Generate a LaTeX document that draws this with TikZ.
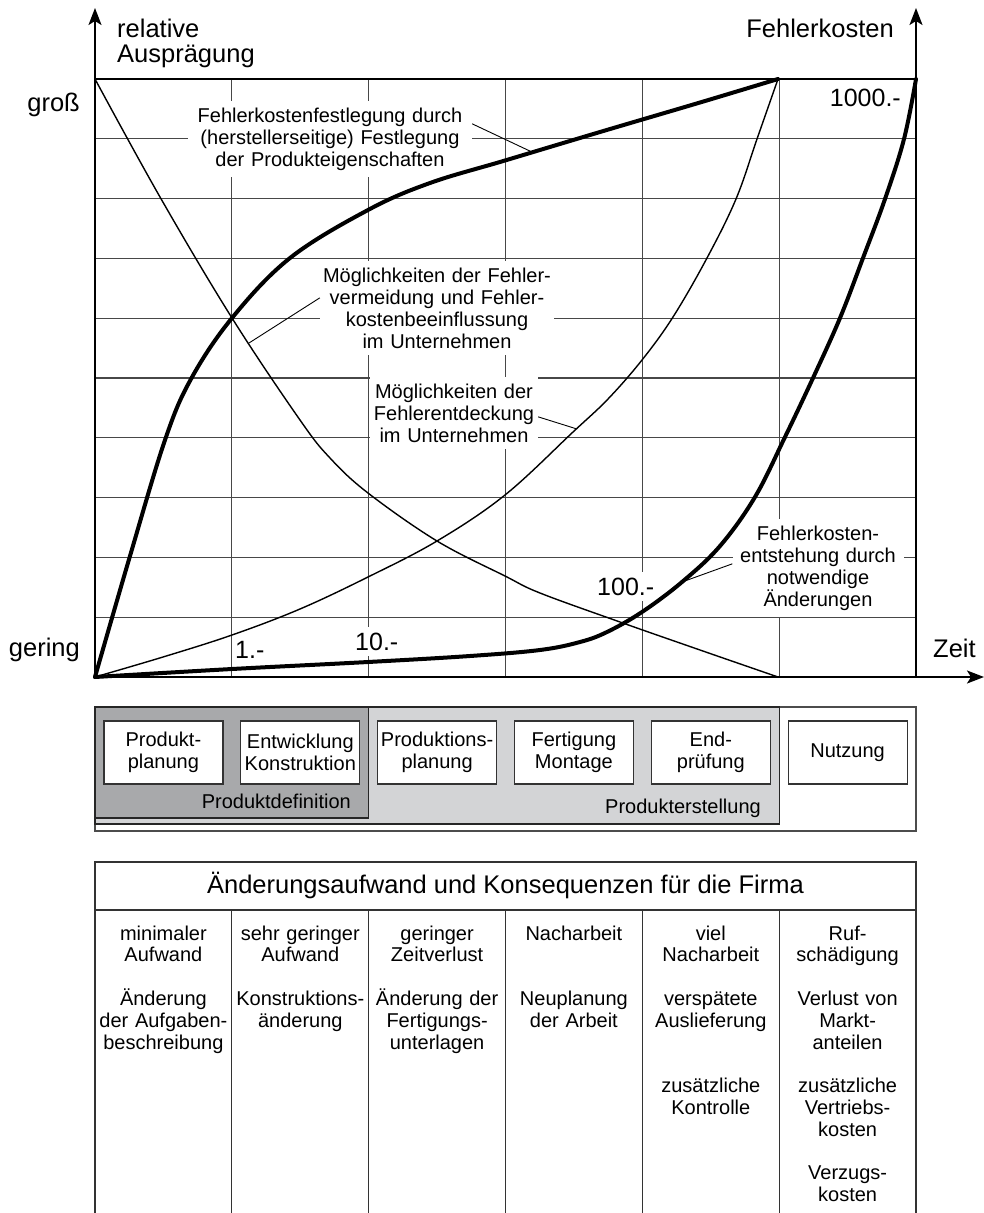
\documentclass[tikz,border=0pt]{standalone}
\usepackage{fontspec}
\setmainfont{Liberation Sans}
\usetikzlibrary{arrows.meta}
\definecolor{defgray}{RGB}{168,169,171}
\definecolor{makegray}{RGB}{211,212,214}
\begin{document}
\begin{tikzpicture}[x=1pt,y=-1pt,
  gridline/.style={draw=black!72, line width=1.1pt},
  axis/.style={line width=1.8pt, -{Stealth[length=17pt,width=13pt,inset=4pt]}},
  thickcurve/.style={line width=4pt, line join=round, line cap=round},
  thincurve/.style={line width=1.4pt},
  leader/.style={line width=0.9pt},
  axislabel/.style={font=\fontsize{25.5}{25}\selectfont, inner sep=0pt},
  note/.style={font=\fontsize{20}{22}\selectfont, align=center, fill=white, inner ysep=7pt},
  price/.style={font=\fontsize{25}{25}\selectfont, fill=white, inner xsep=2pt, inner ysep=6pt},
  phase/.style={draw=black!80, fill=white, line width=1.2pt, minimum width=119pt,
    minimum height=63pt, text width=119pt, inner sep=0pt, align=center,
    font=\fontsize{20}{21.5}\selectfont},
  groupname/.style={font=\fontsize{20}{20}\selectfont, inner sep=0pt},
  cell/.style={font=\fontsize{20}{21.8}\selectfont, text width=134pt, align=center, inner sep=0pt},
  frame/.style={draw=black!80, line width=1.2pt},
]
\useasboundingbox (0,0) rectangle (984,1213);

% ---------- chart grid ----------
\foreach \k in {1,...,9}
  \draw[gridline] (95,{79+\k*59.8}) -- (916,{79+\k*59.8});
\foreach \k in {1,...,5}
  \draw[gridline] ({95+\k*136.83},79) -- ({95+\k*136.83},677);
\draw[line width=1.6pt] (95,79) -- (916,79);

% ---------- axes ----------
\draw[axis] (95,677) -- (95,8);
\draw[axis] (916,677) -- (916,8);
\draw[axis] (95,677) -- (984,677);

\node[axislabel, anchor=base west, text width=200pt, align=left] (ylab) at (117,37) {relative\\Ausprägung};
\node[axislabel, anchor=base east] (costlab) at (894,37) {Fehlerkosten};
\node[axislabel, anchor=base east] (big) at (80,111) {groß};
\node[axislabel, anchor=base east] (small) at (80,656) {gering};
\node[axislabel, anchor=base west] (time) at (933,657) {Zeit};

% ---------- curve labels (white backing cuts the grid) ----------
\node[note, text width=272pt, inner xsep=6pt, anchor=base] (nA) at (330,122)
  {Fehlerkostenfestlegung durch\\(herstellerseitige) Festlegung\\der Produkteigenschaften};
\node[note, text width=230pt, inner xsep=2pt, anchor=base] (nB) at (437,282)
  {Möglichkeiten der Fehler-\\vermeidung und Fehler-\\kostenbeeinflussung\\im Unternehmen};
\node[note, text width=163pt, inner xsep=2.5pt, anchor=base] (nC) at (454,398)
  {Möglichkeiten der\\Fehlerentdeckung\\im Unternehmen};
\node[note, text width=159pt, inner xsep=6pt, anchor=base] (nD) at (818,540)
  {Fehlerkosten-\\entstehung durch\\notwendige\\Änderungen};

\node[price, fill=none, anchor=base west] (p1) at (233,658) {1.-};
\node[price, anchor=base west] (p10) at (353,650) {10.-};
\node[price, anchor=base west] (p100) at (595,595) {100.-};
\node[price, inner ysep=3pt, anchor=base east] (p1000) at (903,106) {1000.-};

% ---------- curves ----------
% cost commitment by product definition
\draw[thickcurve] plot[smooth, tension=0.6] coordinates {(95,677) (130,556) (165,440) (191,379)
  (232,318) (290,258) (368,210) (430,183) (505,160.5) (600,132) (700,102.5) (778,79)};
% possibilities of error prevention
\draw[thincurve] plot[smooth, tension=0.6] coordinates {(95,79) (160,197) (232,318) (300,420)
  (330,458) (368,493) (437,541) (505,576) (540,593) (620,622) (700,650) (778,677)};
% possibilities of error detection
\draw[thincurve] plot[smooth, tension=0.6] coordinates {(95,677) (163,657) (232,635) (300,609)
  (368,577) (437,541) (505,495) (573,432) (608,399) (642,360) (673,317) (707,258) (736,199)
  (757,139) (778,79)};
% costs arising from necessary changes
\draw[thickcurve] plot[smooth, tension=0.6] coordinates {(95,677) (232,669) (368,662) (470,656)
  (540,650) (580,642) (607,632) (642,612) (682,582) (720,546) (755,497) (785,437) (813,378)
  (840,318) (863,258) (885,199) (904,139) (916,79)};

% ---------- leader lines ----------
\coordinate (onA) at (533,152.5);
\coordinate (onB) at (249,343);
\coordinate (onC) at (577,429);
\coordinate (onD) at (682,582);
\draw[leader] ([yshift=15pt]nA.east) -- (onA);
\draw[leader] ([yshift=10pt]nB.west) -- (onB);
\draw[leader] ([yshift=-4pt]nC.east) -- (onC);
\draw[leader] ([yshift=4pt]nD.west) -- (onD);

% ---------- phase bar ----------
\draw[draw=black!70, fill=white, line width=1.1pt] (95,707) rectangle (916,831);
\draw[draw=black!85, fill=makegray, line width=1.2pt] (95,707) rectangle (779.2,824);
\draw[draw=black!85, fill=defgray, line width=1.2pt] (95,707) rectangle (368.7,818);
\node[phase] (pb1) at (163.4,752.5) {Produkt-\\planung};
\node[phase] (pb2) at (300.3,752.5) {Entwicklung\\Konstruktion};
\node[phase] (pb3) at (437.1,752.5) {Produktions-\\planung};
\node[phase] (pb4) at (573.9,752.5) {Fertigung\\Montage};
\node[phase] (pb5) at (710.8,752.5) {End-\\prüfung};
\node[phase] (pb6) at (847.6,752.5) {Nutzung};
\node[groupname, anchor=base east] (gdef) at (351,808) {Produktdefinition};
\node[groupname, anchor=base east] (gmake) at (761,813) {Produkterstellung};

% ---------- consequences table ----------
\draw[frame] (95,1213) -- (95,862) -- (916,862) -- (916,1213);
\draw[frame] (95,910) -- (916,910);
\foreach \k in {1,...,5}
  \draw[frame] ({95+\k*136.83},910) -- ({95+\k*136.83},1213);
\node[font=\fontsize{25.5}{25}\selectfont, inner sep=0pt, anchor=base] (title) at (505.5,893)
  {Änderungsaufwand und Konsequenzen für die Firma};
\node[cell, anchor=base] (c1) at (163.4,940)
  {minimaler\\Aufwand\\[21.8pt]Änderung\\der Aufgaben-\\beschreibung};
\node[cell, anchor=base] (c2) at (300.3,940)
  {sehr geringer\\Aufwand\\[21.8pt]Konstruktions-\\änderung};
\node[cell, anchor=base] (c3) at (437.1,940)
  {geringer\\Zeitverlust\\[21.8pt]Änderung der\\Fertigungs-\\unterlagen};
\node[cell, anchor=base] (c4) at (573.9,940)
  {Nacharbeit\\[43.6pt]Neuplanung\\der Arbeit};
\node[cell, anchor=base] (c5) at (710.8,940)
  {viel\\Nacharbeit\\[21.8pt]verspätete\\Auslieferung\\[43.6pt]zusätzliche\\Kontrolle};
\node[cell, anchor=base] (c6) at (847.6,940)
  {Ruf-\\schädigung\\[21.8pt]Verlust von\\Markt-\\anteilen\\[21.8pt]zusätzliche\\Vertriebs-\\kosten\\[21.8pt]Verzugs-\\kosten};
\end{tikzpicture}
\end{document}
